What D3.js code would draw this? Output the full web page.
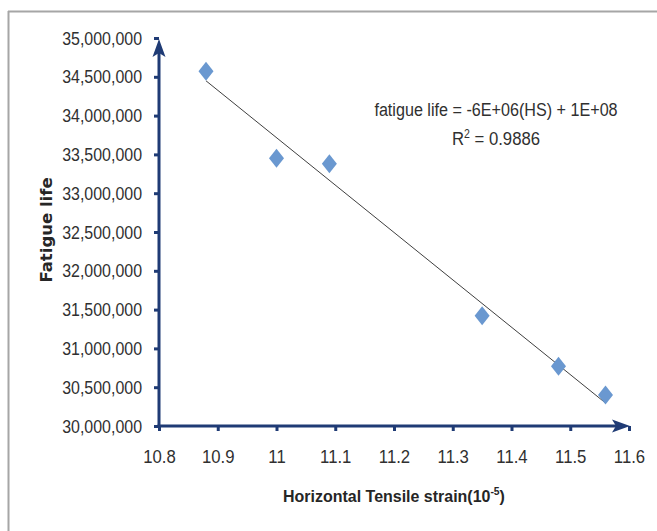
<!DOCTYPE html>
<html>
<head>
<meta charset="utf-8">
<script src="https://cdn.jsdelivr.net/npm/d3@7"></script>
<style>
  html, body { margin: 0; padding: 0; background: #fff; }
  svg { display: block; }
</style>
</head>
<body>
<svg id="chart" width="657" height="531"></svg>
<script>
// ---- data ----
const strain = [10.88, 11.0, 11.09, 11.35, 11.48, 11.56];
const fatigueLife = [34570000, 33450000, 33380000, 31420000, 30770000, 30400000];
const xTicks = [10.8, 10.9, 11.0, 11.1, 11.2, 11.3, 11.4, 11.5, 11.6];
const yTicks = [30000000, 30500000, 31000000, 31500000, 32000000, 32500000, 33000000, 33500000, 34000000, 34500000, 35000000];
const equationText = "fatigue life = -6E+06(HS) + 1E+08";
const r2Value = "0.9886";

(function () {
const svg = d3.select("#chart");
const W = 657, H = 531;
const pLeft = 159, pRight = 629, pTop = 38, pBottom = 426;
const axisColor = "#1F3B75";
const tickFont = "'Liberation Sans', Arial, sans-serif";

// condense text horizontally around its anchor x (narrow face look)
function condense(sel, k) {
  sel.each(function () {
    const ax = +(this.getAttribute("x") || 0);
    d3.select(this).attr("transform", `translate(${ax},0) scale(${k},1) translate(${-ax},0)`);
  });
}

// chart outer border (top & left)
svg.append("line").attr("x1", 8).attr("x2", W).attr("y1", 11.5).attr("y2", 11.5)
  .attr("stroke", "#a6a6a6").attr("stroke-width", 2);
svg.append("line").attr("x1", 8.5).attr("x2", 8.5).attr("y1", 11).attr("y2", H)
  .attr("stroke", "#a6a6a6").attr("stroke-width", 2);

const x = d3.scaleLinear().domain([10.8, 11.6]).range([pLeft, pRight]);
const y = d3.scaleLinear().domain([30000000, 35000000]).range([pBottom, pTop]);

// Y axis
const yAxis = d3.axisLeft(y).tickValues(yTicks).tickSize(5).tickPadding(12)
  .tickFormat(d3.format(","));
const gy = svg.append("g").attr("transform", `translate(${pLeft},0)`).call(yAxis);
gy.select(".domain").remove();
gy.selectAll(".tick line").attr("stroke", axisColor).attr("stroke-width", 3);
gy.selectAll(".tick text").attr("font-family", tickFont).attr("font-size", 19)
  .attr("fill", "#303030");
condense(gy.selectAll(".tick text"), 0.84);

// X axis
const xAxis = d3.axisBottom(x).tickValues(xTicks).tickSize(5).tickPadding(19)
  .tickFormat(d => String(+d.toFixed(1)));
const gx = svg.append("g").attr("transform", `translate(0,${pBottom})`).call(xAxis);
gx.select(".domain").remove();
gx.selectAll(".tick line").attr("stroke", axisColor).attr("stroke-width", 3);
gx.selectAll(".tick text").attr("font-family", tickFont).attr("font-size", 19)
  .attr("fill", "#303030");
condense(gx.selectAll(".tick text"), 0.88);

// axis lines with arrows
svg.append("line").attr("x1", x(10.8)).attr("x2", x(10.8)).attr("y1", pBottom + 1.5).attr("y2", pTop + 14)
  .attr("stroke", axisColor).attr("stroke-width", 3);
svg.append("line").attr("x1", x(10.8) - 1.5).attr("x2", pRight - 10).attr("y1", pBottom).attr("y2", pBottom)
  .attr("stroke", axisColor).attr("stroke-width", 3);
svg.append("path")
  .attr("d", `M${x(10.8)},${pTop + 1} L${x(10.8) + 6.5},${pTop + 19} L${x(10.8)},${pTop + 15} L${x(10.8) - 6.5},${pTop + 19} Z`)
  .attr("fill", axisColor);
svg.append("path")
  .attr("d", `M${pRight + 1},${pBottom} L${pRight - 17},${pBottom - 6.5} L${pRight - 13},${pBottom} L${pRight - 17},${pBottom + 6.5} Z`)
  .attr("fill", axisColor);

// linear regression trendline
const n = strain.length;
const mx = d3.mean(strain), my = d3.mean(fatigueLife);
let sxy = 0, sxx = 0;
for (let i = 0; i < n; i++) {
  sxy += (strain[i] - mx) * (fatigueLife[i] - my);
  sxx += (strain[i] - mx) ** 2;
}
const slope = sxy / sxx, intercept = my - slope * mx;
const [xmin, xmax] = d3.extent(strain);
svg.append("line")
  .attr("x1", x(xmin)).attr("y1", y(slope * xmin + intercept))
  .attr("x2", x(xmax)).attr("y2", y(slope * xmax + intercept))
  .attr("stroke", "#3f3f3f").attr("stroke-width", 1);

// diamond markers
const hw = 7.5, hh = 9.5;
svg.append("g").selectAll("path").data(strain.map((s, i) => [s, fatigueLife[i]]))
  .join("path")
  .attr("d", d => {
    const cx = x(d[0]), cy = y(d[1]);
    return `M${cx},${cy - hh} L${cx + hw},${cy} L${cx},${cy + hh} L${cx - hw},${cy} Z`;
  })
  .attr("fill", "#6A98D0");

// equation labels
const eq = svg.append("text").attr("x", 496).attr("y", 116).attr("text-anchor", "middle")
  .attr("font-family", tickFont).attr("font-size", 19).attr("fill", "#303030")
  .text(equationText);
condense(eq, 0.85);
const r2 = svg.append("text").attr("x", 496).attr("y", 145).attr("text-anchor", "middle")
  .attr("font-family", tickFont).attr("font-size", 19).attr("fill", "#303030");
r2.append("tspan").text("R");
r2.append("tspan").attr("dy", -7).attr("font-size", 12).text("2");
r2.append("tspan").attr("dy", 7).text(" = " + r2Value);
condense(r2, 0.88);

// axis titles
svg.append("text")
  .attr("transform", `translate(52,230) rotate(-90)`)
  .attr("text-anchor", "middle")
  .attr("font-family", "'DejaVu Sans', Verdana, sans-serif").attr("font-weight", "bold")
  .attr("font-size", 16.5).attr("fill", "#262626")
  .text("Fatigue life");

const xt = svg.append("text").attr("x", 394).attr("y", 502).attr("text-anchor", "middle")
  .attr("font-family", tickFont).attr("font-weight", "bold")
  .attr("font-size", 17).attr("fill", "#262626");
xt.append("tspan").text("Horizontal Tensile strain(10");
xt.append("tspan").attr("dy", -7).attr("font-size", 11).text("-5");
xt.append("tspan").attr("dy", 7).text(")");
condense(xt, 0.94);
})();
</script>
</body>
</html>
